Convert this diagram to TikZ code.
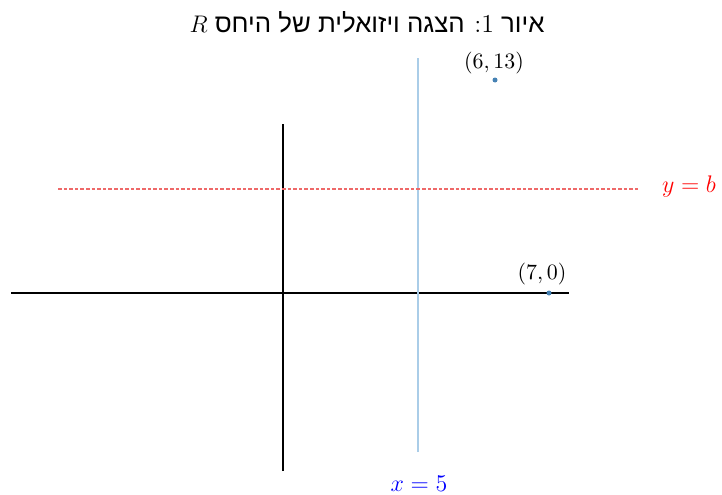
\documentclass[tikz,border=0pt]{standalone}
\usepackage{fontspec}
\newfontfamily\hebfont[Script=Hebrew]{Liberation Sans}
\TeXXeTstate=1
\definecolor{linecol}{RGB}{170,205,232}
\definecolor{dotcol}{RGB}{70,130,180}
\definecolor{dashcol}{RGB}{238,105,105}

\begin{document}
\begin{tikzpicture}[x=0.5pt,y=0.5pt,axis/.style={line width=0.75pt},vline/.style={line width=0.75pt,draw=linecol},hline/.style={line width=0.55pt,draw=dashcol,dash pattern=on 1.8pt off 1pt},dot/.style={fill=dotcol},label/.style={font=\fontsize{13}{15}\selectfont},coord/.style={font=\fontsize{10.7}{13}\selectfont}]
\useasboundingbox (0,0) rectangle (722,494);
\coordinate (xl) at (11,201); \coordinate (xr) at (569,201); \coordinate (yb) at (283,23); \coordinate (yt) at (283,370);
\coordinate (vb) at (418,42); \coordinate (vt) at (418,436); \coordinate (hl) at (58,305); \coordinate (hr) at (640,305);
\coordinate (P) at (495,414); \coordinate (Q) at (549,201);
\draw[axis] (xl) -- (xr); \draw[axis] (yb) -- (yt);
\draw[vline] (vb) -- (vt); \draw[hline] (hl) -- (hr);
\fill[dot] (P) circle (2.5); \fill[dot] (Q) circle (2.5);
\node[coord] (plab) at (494,431) {$(6,13)$}; \node[coord] (qlab) at (542,220) {$(7,0)$};
\node[label,text=blue] (xlab) at (419,10) {$x=5$};
\node[label,text=red] (ylab) at (689,308) {$y=b$};
\node[font=\fontsize{12.9}{15}\selectfont] (title) at (367,472) {\hebfont\beginR איור {\rmfamily 1\kern0pt:} הצגה ויזואלית של היחס $R$\endR};
\end{tikzpicture}
\end{document}
